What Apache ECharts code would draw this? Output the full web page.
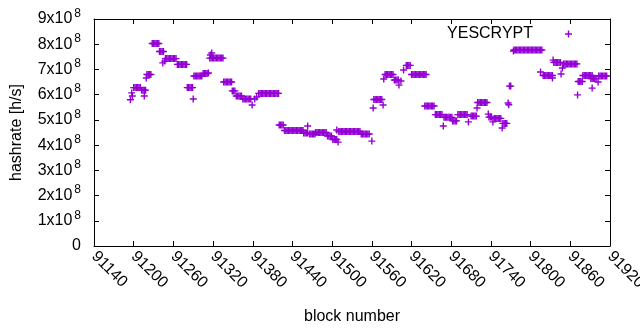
<!DOCTYPE html>
<html>
<head>
<meta charset="utf-8">
<script src="https://cdn.jsdelivr.net/npm/echarts@6/dist/echarts.min.js"></script>
<style>
  html, body { margin: 0; padding: 0; background: #fff; }
  #chart { width: 640px; height: 330px; }
</style>
</head>
<body>
<div id="chart"></div>
<script>
// x range / ticks (block number)
var blockMin = 91140, blockMax = 91920, blockStep = 60;
// y range / ticks, in units of 10^8 h/s
var rateMin = 0, rateMax = 9, rateStep = 1;
var seriesName = 'YESCRYPT';

// [block, hashrate in 10^8 h/s]
var yescrypt = [
  [91195, 5.8], [91197, 6.07], [91198, 5.95],
  [91200, 6.28], [91202, 6.28], [91204, 6.28], [91206, 6.28], [91208, 6.28], [91210, 6.28],
  [91212, 6.18], [91214, 6.18], [91216, 6.18], [91218, 6.18], [91216, 5.95],
  [91219, 6.66], [91220, 6.8], [91222, 6.8], [91224, 6.8], [91226, 6.8],
  [91228, 8.03], [91230, 8.03], [91232, 8.03], [91234, 8.03], [91236, 8.03], [91238, 8.03],
  [91239, 7.71], [91241, 7.71], [91243, 7.71], [91245, 7.71], [91244, 7.26], [91247, 7.33],
  [91248, 7.43], [91250, 7.43], [91252, 7.43], [91254, 7.43], [91256, 7.43], [91258, 7.43], [91260, 7.43], [91262, 7.43], [91264, 7.43],
  [91266, 7.2], [91268, 7.2], [91270, 7.2], [91272, 7.2], [91274, 7.2], [91276, 7.2], [91278, 7.2], [91280, 7.2],
  [91281, 6.28], [91283, 6.28], [91285, 6.28], [91287, 6.28], [91289, 6.28], [91290, 5.83],
  [91291, 6.74], [91293, 6.74], [91295, 6.74], [91297, 6.74], [91299, 6.74], [91301, 6.74], [91303, 6.74],
  [91305, 6.84], [91307, 6.84], [91309, 6.84], [91311, 6.84], [91313, 6.86],
  [91316, 7.57], [91318, 7.65],
  [91315, 7.45], [91317, 7.45], [91319, 7.45], [91321, 7.45], [91323, 7.45], [91325, 7.45], [91327, 7.45], [91329, 7.45], [91331, 7.45], [91333, 7.45], [91335, 7.45],
  [91336, 6.5], [91338, 6.5], [91340, 6.5], [91342, 6.5], [91344, 6.5], [91346, 6.5], [91348, 6.5],
  [91349, 6.15], [91351, 6.15], [91353, 6.15],
  [91355, 5.95], [91357, 5.95], [91359, 5.95], [91361, 5.95], [91363, 5.95],
  [91365, 5.83], [91367, 5.83], [91369, 5.83], [91371, 5.83], [91373, 5.83], [91375, 5.83], [91377, 5.83], [91379, 5.59],
  [91383, 5.83], [91386, 5.91],
  [91389, 6.05], [91391, 6.05], [91393, 6.05], [91395, 6.05], [91397, 6.05], [91399, 6.05], [91401, 6.05], [91403, 6.05],
  [91405, 6.05], [91407, 6.05], [91409, 6.05], [91411, 6.05], [91413, 6.05], [91415, 6.05], [91417, 6.05], [91419, 6.05],
  [91420, 4.8], [91422, 4.8], [91424, 4.8], [91426, 4.8],
  [91428, 4.58], [91430, 4.58], [91432, 4.58], [91434, 4.58], [91436, 4.58], [91438, 4.58], [91440, 4.58], [91442, 4.58],
  [91444, 4.58], [91446, 4.58], [91448, 4.58], [91450, 4.58], [91452, 4.58], [91454, 4.58], [91456, 4.58],
  [91457, 4.48], [91459, 4.48], [91461, 4.48], [91463, 4.48], [91463, 4.76],
  [91466, 4.44], [91468, 4.44], [91470, 4.44], [91472, 4.44], [91474, 4.44],
  [91475, 4.5], [91477, 4.5], [91479, 4.5], [91481, 4.5], [91483, 4.5], [91485, 4.5], [91487, 4.5], [91489, 4.5], [91491, 4.5],
  [91493, 4.36], [91495, 4.36], [91497, 4.36], [91499, 4.36],
  [91501, 4.22], [91503, 4.22], [91505, 4.22], [91507, 4.22], [91507, 4.6], [91509, 4.12],
  [91510, 4.54], [91512, 4.54], [91514, 4.54], [91516, 4.54], [91518, 4.54], [91520, 4.54], [91522, 4.54], [91524, 4.54], [91526, 4.54],
  [91528, 4.54], [91530, 4.54], [91532, 4.54], [91534, 4.54], [91536, 4.54], [91538, 4.54], [91540, 4.54], [91542, 4.54],
  [91544, 4.44], [91546, 4.44], [91548, 4.44], [91550, 4.44], [91552, 4.44], [91554, 4.44], [91556, 4.44],
  [91560, 4.16], [91562, 5.47],
  [91563, 5.81], [91565, 5.81], [91567, 5.81], [91569, 5.81], [91571, 5.81], [91573, 5.81], [91575, 5.81],
  [91577, 5.59], [91578, 6.62],
  [91580, 6.8], [91582, 6.8], [91584, 6.8], [91586, 6.8], [91588, 6.8], [91590, 6.8], [91592, 6.8],
  [91594, 6.58], [91596, 6.58], [91598, 6.58], [91600, 6.58], [91601, 6.38], [91604, 6.54], [91608, 6.98],
  [91612, 7.16], [91614, 7.16], [91616, 7.16], [91618, 7.16],
  [91620, 6.8], [91622, 6.8], [91624, 6.8], [91626, 6.8], [91628, 6.8], [91630, 6.8], [91632, 6.8], [91634, 6.8], [91636, 6.8], [91638, 6.8], [91640, 6.8], [91642, 6.8],
  [91640, 5.55], [91642, 5.55], [91644, 5.55], [91646, 5.55], [91648, 5.55], [91650, 5.55], [91652, 5.55], [91654, 5.55],
  [91656, 5.21], [91658, 5.21], [91660, 5.21], [91662, 5.21], [91664, 5.21], [91666, 5.21], [91668, 4.76],
  [91669, 5.1], [91671, 5.1], [91673, 5.1], [91675, 5.1], [91677, 5.1], [91679, 5.1], [91681, 5.1],
  [91682, 4.96], [91684, 4.96], [91686, 4.96], [91688, 4.96],
  [91690, 5.21], [91692, 5.21], [91694, 5.21], [91696, 5.21], [91698, 5.21], [91700, 5.21], [91702, 5.21], [91704, 5.21], [91706, 4.92],
  [91710, 5.15], [91712, 5.15], [91714, 5.15], [91716, 5.15], [91718, 5.15],
  [91719, 5.47], [91720, 5.69], [91722, 5.69], [91724, 5.69], [91726, 5.69], [91728, 5.69], [91730, 5.69], [91732, 5.69], [91734, 5.69],
  [91736, 5.23], [91737, 5.11], [91739, 5.11], [91741, 5.11], [91743, 4.92],
  [91745, 5.06], [91747, 5.06], [91749, 5.06], [91751, 5.06], [91753, 5.06], [91755, 5.06],
  [91757, 4.68], [91758, 4.86], [91760, 4.86], [91762, 4.86], [91764, 4.86],
  [91766, 5.67], [91767, 5.6], [91768, 6.34], [91770, 6.34], [91774, 7.73],
  [91775, 7.77], [91777, 7.77], [91779, 7.77], [91781, 7.77], [91783, 7.77], [91785, 7.77], [91787, 7.77], [91789, 7.77], [91791, 7.77], [91793, 7.77], [91795, 7.77],
  [91797, 7.77], [91799, 7.77], [91801, 7.77], [91803, 7.77], [91805, 7.77], [91807, 7.77], [91809, 7.77], [91811, 7.77], [91813, 7.77], [91815, 7.77], [91817, 7.77],
  [91815, 6.9], [91819, 6.76], [91821, 6.76], [91823, 6.76], [91825, 6.76], [91827, 6.76], [91829, 6.76], [91831, 6.76], [91833, 6.76], [91833, 6.66],
  [91834, 7.37], [91835, 7.28], [91837, 7.28], [91839, 7.28], [91841, 7.28], [91843, 7.28], [91845, 7.28], [91846, 6.82], [91848, 7.06],
  [91850, 7.22], [91852, 7.22], [91854, 7.22], [91856, 7.22], [91858, 7.22], [91860, 7.22], [91862, 7.22], [91864, 7.22], [91866, 7.22], [91868, 7.22], [91870, 7.22],
  [91871, 5.99],
  [91872, 6.52], [91874, 6.52], [91876, 6.52], [91878, 6.52],
  [91879, 6.76], [91881, 6.76], [91883, 6.76], [91885, 6.76], [91887, 6.76], [91889, 6.76], [91891, 6.76], [91893, 6.76],
  [91891, 6.64], [91893, 6.64], [91895, 6.64], [91897, 6.64], [91899, 6.64], [91893, 6.26], [91902, 6.5],
  [91903, 6.74], [91905, 6.74], [91907, 6.74], [91909, 6.74], [91911, 6.74], [91913, 6.74], [91915, 6.74]
];

var FONT = '"Liberation Sans", Arial, sans-serif';
var PURPLE = '#9400d3';
// gnuplot style "+" (7x7, thin arms)
var PLUS = 'path://M0,2.8H7V4.2H0Z M2.8,0H4.2V7H2.8Z';

var chart = echarts.init(document.getElementById('chart'), null, { renderer: 'canvas' });

function xAxisOpt(pos) {
  var a = {
    type: 'value', position: pos,
    min: blockMin, max: blockMax, interval: blockStep,
    axisLine: { show: true, onZero: false, lineStyle: { color: '#000', width: 1 } },
    axisTick: { show: true, inside: true, length: 5, lineStyle: { color: '#000' } },
    splitLine: { show: false },
    axisLabel: { show: false }
  };
  if (pos === 'bottom') {
    a.axisLabel = {
      show: true, rotate: -45, margin: 8, fontSize: 16, color: '#000', fontFamily: FONT,
      formatter: function (v) { return String(v); }
    };
    a.name = 'block number';
    a.nameLocation = 'middle';
    a.nameGap = 63;
    a.nameTextStyle = { fontSize: 16, color: '#000', fontFamily: FONT };
  }
  return a;
}

function yAxisOpt(pos) {
  var a = {
    type: 'value', position: pos,
    min: rateMin, max: rateMax, interval: rateStep,
    axisLine: { show: true, onZero: false, lineStyle: { color: '#000', width: 1 } },
    axisTick: { show: true, inside: true, length: 5, lineStyle: { color: '#000' } },
    splitLine: { show: false },
    axisLabel: { show: false }
  };
  if (pos === 'left') {
    a.axisLabel = {
      show: true, margin: 13, color: '#000', fontFamily: FONT, fontSize: 16,
      formatter: function (v) {
        if (v === 0) return '0';
        return '{m|' + v + 'x10}{e|8}';
      },
      rich: {
        m: { fontSize: 16, color: '#000', fontFamily: FONT },
        e: { fontSize: 12, color: '#000', fontFamily: FONT, padding: [0, 0, 11, 2] }
      }
    };
    a.name = 'hashrate [h/s]';
    a.nameLocation = 'middle';
    a.nameGap = 69;
    a.nameTextStyle = { fontSize: 16, color: '#000', fontFamily: FONT };
  }
  return a;
}

chart.setOption({
  animation: false,
  backgroundColor: '#fff',
  textStyle: { fontFamily: FONT },
  grid: { left: 94, right: 30, top: 19, bottom: 84, containLabel: false, outerBoundsMode: 'none' },
  legend: {
    data: [seriesName],
    right: 68, top: 26, padding: 0,
    align: 'right',
    itemWidth: 7, itemHeight: 7,
    icon: PLUS,
    itemStyle: { color: PURPLE },
    textStyle: { fontSize: 16, color: '#000', fontFamily: FONT, padding: [0, 27, 0, 0] }
  },
  xAxis: [xAxisOpt('bottom'), xAxisOpt('top')],
  yAxis: [yAxisOpt('left'), yAxisOpt('right')],
  series: [{
    name: seriesName,
    type: 'scatter',
    data: yescrypt,
    symbol: PLUS,
    symbolSize: 7,
    itemStyle: { color: PURPLE, opacity: 1 },
    silent: true
  }]
});
</script>
</body>
</html>
